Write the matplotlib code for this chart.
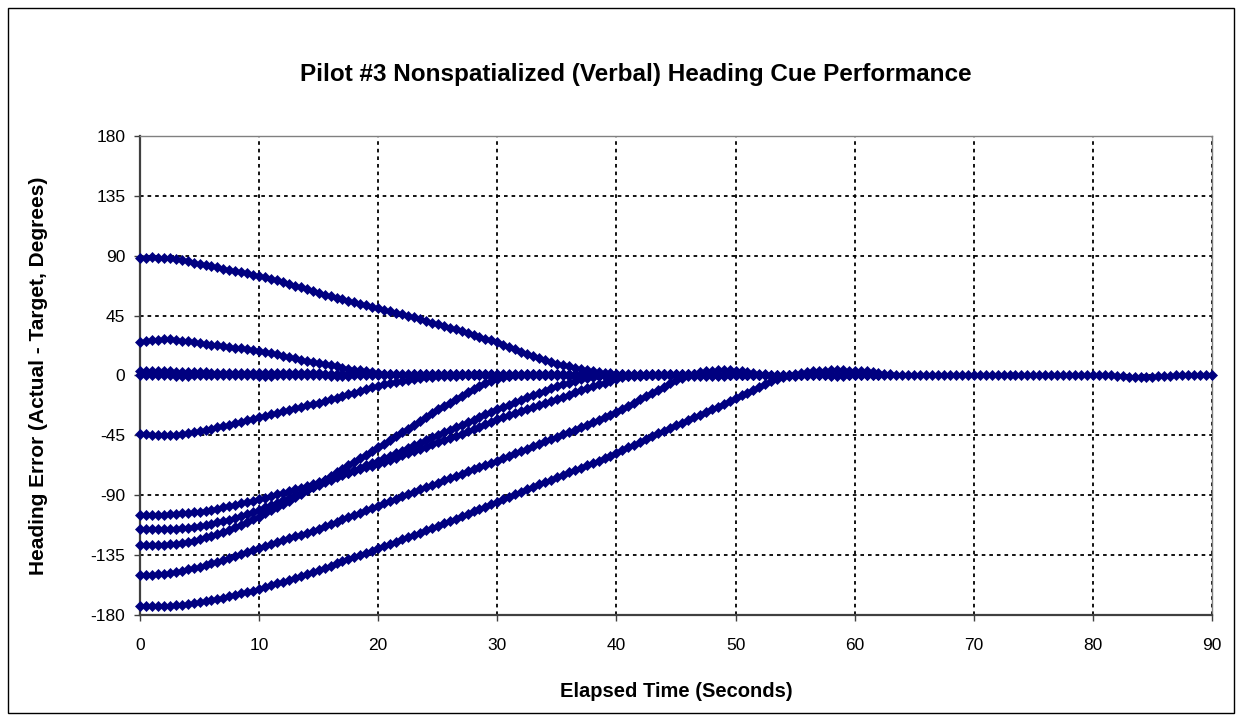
import numpy as np
import matplotlib
matplotlib.use('Agg')
import matplotlib.pyplot as plt
from matplotlib.patches import Rectangle

# sample spacing of the recorded runs (seconds)
TIME_STEP = 0.5

# heading error traces (degrees), one value every 0.5 s
run_start_88 = [
    88.5, 88.6, 88.7, 88.6, 88.4, 88.0, 87.4, 86.6, 85.7, 84.8,
    84.0, 83.1, 82.2, 81.3, 80.4, 79.5, 78.6, 77.7, 76.8, 75.9,
    75.0, 73.8, 72.6, 71.4, 70.2, 69.0, 67.6, 66.2, 64.8, 63.4,
    62.0, 60.8, 59.6, 58.4, 57.2, 56.0, 54.9, 53.8, 52.7, 51.6,
    50.5, 49.4, 48.3, 47.2, 46.1, 45.0, 43.7, 42.4, 41.1, 39.8,
    38.5, 37.2, 35.9, 34.6, 33.3, 32.0, 30.6, 29.2, 27.8, 26.4,
    25.0, 23.2, 21.4, 19.6, 17.8, 16.0, 14.6, 13.2, 11.8, 10.4,
    9.0, 8.0, 7.0, 6.0, 5.0, 4.0, 3.4, 2.8, 2.2, 1.6,
    1.0, 0.8, 0.6, 0.5, 0.4, 0.4, 0.5, 0.6, 0.8, 1.0,
    1.2, 1.4, 1.5, 1.5, 1.4, 1.2, 1.0,
]
run_start_27 = [
    25.0, 25.8, 26.5, 26.9, 27.1, 27.1, 26.8, 26.3, 25.6, 25.0,
    24.3, 23.7, 23.1, 22.6, 22.1, 21.5, 21.0, 20.4, 19.9, 19.3,
    18.7, 17.8, 16.9, 15.9, 14.9, 14.0, 13.0, 12.0, 11.0, 10.1,
    9.2, 8.4, 7.6, 6.8, 6.0, 5.2, 4.5, 3.8, 3.1, 2.4,
    1.8, 1.3, 1.0, 0.8, 0.7, 0.7, 0.8, 0.9, 1.0, 1.0,
    1.0, 1.0, 1.1, 1.1, 1.2, 1.2, 1.2, 1.1, 1.1, 1.0,
    1.0, 0.9, 0.9, 0.8, 0.8, 0.8, 0.9, 0.9, 1.0, 1.0,
    1.1, 1.1, 1.2, 1.2, 1.2, 1.1, 1.1, 1.0, 1.0, 0.9,
    0.9,
]
run_start_4 = [
    3.5, 3.6, 3.6, 3.5, 3.4, 3.2, 3.0, 2.8, 2.6, 2.5,
    2.4, 2.3, 2.2, 2.2, 2.1, 2.1, 2.0, 2.0, 2.0, 1.9,
    1.9, 1.9, 1.8, 1.8, 1.8, 1.7, 1.7, 1.7, 1.6, 1.6,
    1.6, 1.5, 1.5, 1.5, 1.4, 1.4, 1.4, 1.3, 1.3, 1.3,
    1.2, 1.2, 1.2, 1.1, 1.1, 1.1, 1.0, 1.0, 1.0, 1.0,
    0.9, 0.9, 0.9, 0.9, 0.8, 0.8, 0.8, 0.8, 0.8, 0.8,
    0.7, 0.7, 0.7, 0.7, 0.7, 0.6, 0.6, 0.6, 0.6, 0.6,
    0.6, 0.5, 0.5, 0.5, 0.5, 0.5, 0.5, 0.4, 0.4, 0.4,
    0.4, 0.4, 0.4, 0.4, 0.3, 0.3, 0.3, 0.3, 0.3, 0.3,
    0.3, 0.3, 0.3, 0.3, 0.3, 0.4, 0.4, 0.4, 0.5, 0.5,
    0.5, 0.6, 0.6, 0.6, 0.6, 0.6, 0.6, 0.5, 0.5, 0.5,
    0.5, 0.4, 0.4, 0.4, 0.4, 0.4, 0.3, 0.3, 0.3, 0.3,
    0.3, 0.3, 0.4, 0.4, 0.4, 0.5, 0.5, 0.5, 0.5, 0.5,
    0.5, 0.5, 0.4, 0.4, 0.4, 0.4, 0.3, 0.3, 0.3, 0.3,
    0.3, 0.3, 0.3, 0.4, 0.4, 0.4, 0.4, 0.4, 0.4, 0.4,
    0.4, 0.3, 0.3, 0.3, 0.3, 0.3, 0.3, 0.3, 0.2, 0.2,
    0.2, 0.2, 0.1, 0.0, -0.3, -0.7, -1.1, -1.4, -1.5, -1.3,
    -1.0, -0.7, -0.4, -0.2, 0.0, 0.1, 0.2, 0.3, 0.3, 0.3,
    0.3,
]
run_start_0 = [
    0.4, 0.3, 0.2, 0.1, 0.0, 0.0, -0.1, -0.1, -0.1, 0.0,
    0.0, 0.1, 0.1, 0.2, 0.2, 0.2, 0.1, 0.1, 0.0, 0.0,
    -0.1, -0.1, -0.1, 0.0, 0.0, 0.1, 0.1, 0.1, 0.1, 0.0,
    0.0, 0.0, -0.1, -0.1, -0.1, -0.1, 0.0, 0.0, 0.1, 0.1,
    0.1, 0.1, 0.1, 0.0, 0.0, 0.0, -0.1, -0.1, -0.1, -0.1,
    0.0, 0.0, 0.1, 0.1, 0.1, 0.1, 0.0, 0.0, 0.0, -0.1,
    -0.1, -0.1, -0.1, 0.0, 0.0, 0.1, 0.1, 0.2, 0.2, 0.2,
    0.1, 0.1, 0.0, 0.0, -0.1, -0.2, -0.3, -0.4, -0.5, -0.5,
    -0.5, -0.4, -0.3, -0.2, -0.1, 0.0, 0.0, 0.1, 0.1, 0.1,
    0.0, 0.0, -0.1, -0.2, -0.3, -0.3, -0.3, -0.2, -0.1, 0.0,
    0.1, 0.2, 0.2, 0.2, 0.1, 0.0, -0.1, -0.2, -0.2, -0.2,
    -0.1, 0.0, 0.1, 0.1, 0.1, 0.0, -0.1, -0.1, -0.1, 0.0,
    0.0, 0.1, 0.1, 0.1, 0.0,
]
run_start_m45 = [
    -43.8, -44.2, -44.6, -44.9, -45.0, -45.0, -44.8, -44.2, -43.5, -42.8,
    -42.0, -41.0, -40.0, -39.0, -38.0, -36.9, -35.8, -34.7, -33.5, -32.4,
    -31.2, -30.2, -29.1, -28.1, -27.0, -25.9, -24.8, -23.7, -22.5, -21.4,
    -20.3, -19.1, -17.8, -16.6, -15.3, -14.1, -12.8, -11.5, -10.2, -9.0,
    -7.7, -6.6, -5.6, -4.7, -3.8, -3.1, -2.4, -1.8, -1.3, -0.9,
    -0.6, -0.4, -0.2, -0.1, 0.0, 0.1, 0.2, 0.2, 0.3, 0.3,
    0.3, 0.3, 0.2, 0.2, 0.2, 0.1, 0.1, 0.1, 0.0, 0.0,
    0.0, 0.0, -0.1, -0.1, -0.1, -0.1, 0.0, 0.0, 0.0, 0.1,
    0.1,
]
run_start_m105 = [
    -105.0, -105.0, -104.9, -104.8, -104.6, -104.3, -104.0, -103.6, -103.2, -102.8,
    -102.3, -101.6, -100.9, -100.0, -99.2, -98.3, -97.3, -96.2, -95.2, -94.1,
    -93.0, -91.8, -90.6, -89.4, -88.2, -87.0, -85.6, -84.2, -82.8, -81.4,
    -80.0, -78.6, -77.2, -75.8, -74.4, -73.0, -71.7, -70.4, -69.1, -67.8,
    -66.5, -64.9, -63.3, -61.7, -60.1, -58.5, -56.8, -55.1, -53.4, -51.7,
    -50.0, -48.4, -46.8, -45.2, -43.6, -42.0, -40.2, -38.4, -36.6, -34.8,
    -33.0, -31.5, -30.0, -28.5, -27.0, -25.5, -23.9, -22.3, -20.7, -19.1,
    -17.5, -15.9, -14.3, -12.7, -11.1, -9.5, -8.1, -6.7, -5.3, -3.9,
    -2.5, -1.5, -0.6, 0.0, 0.4, 0.7, 0.9, 1.0, 1.1, 1.1,
    1.1, 1.0, 1.0, 0.9, 0.9, 0.8, 0.8, 0.7, 0.7, 0.7,
    0.6, 0.6, 0.6, 0.5, 0.5,
]
run_start_m115 = [
    -115.5, -115.5, -115.5, -115.4, -115.3, -115.2, -115.0, -114.7, -114.3, -113.8,
    -113.3, -112.4, -111.4, -110.4, -109.3, -108.3, -106.9, -105.4, -104.0, -102.5,
    -101.0, -99.2, -97.4, -95.6, -93.8, -92.0, -90.0, -88.0, -86.0, -84.0,
    -82.0, -80.2, -78.4, -76.6, -74.8, -73.0, -71.2, -69.4, -67.6, -65.8,
    -64.0, -62.1, -60.2, -58.3, -56.4, -54.5, -52.5, -50.5, -48.5, -46.5,
    -44.5, -42.6, -40.7, -38.8, -36.9, -35.0, -33.1, -31.2, -29.3, -27.4,
    -25.5, -23.7, -21.9, -20.1, -18.3, -16.5, -14.8, -13.1, -11.4, -9.7,
    -8.0, -6.7, -5.4, -4.2, -3.0, -2.0, -1.2, -0.5, 0.0, 0.4,
    0.7, 0.9, 1.0, 1.0, 1.0, 0.9, 0.9, 0.8, 0.8, 0.7,
    0.7,
]
run_start_m127 = [
    -127.5, -127.5, -127.4, -127.3, -127.1, -126.8, -126.4, -125.8, -125.0, -124.1,
    -123.0, -121.7, -120.4, -119.0, -117.5, -116.0, -114.2, -112.3, -110.2, -108.1,
    -106.0, -103.6, -101.2, -98.8, -96.4, -94.0, -91.4, -88.8, -86.2, -83.6,
    -81.0, -78.3, -75.6, -72.9, -70.2, -67.5, -64.8, -62.1, -59.4, -56.7,
    -54.0, -51.2, -48.4, -45.6, -42.8, -40.0, -37.1, -34.2, -31.3, -28.4,
    -25.5, -22.9, -20.3, -17.7, -15.1, -12.5, -10.2, -8.0, -6.0, -4.2,
    -2.5, -1.2, -0.3, 0.3, 0.7, 0.9, 1.0, 1.0, 0.9, 0.9,
    0.8, 0.8, 0.7, 0.7, 0.7, 0.6, 0.6, 0.6, 0.5, 0.5,
    0.5, 0.5, 0.4, 0.4, 0.4, 0.4, 0.3, 0.3, 0.3, 0.3,
    0.3,
]
run_start_m150 = [
    -150.0, -150.0, -149.8, -149.5, -149.1, -148.5, -147.7, -146.8, -145.8, -144.9,
    -144.0, -142.6, -141.2, -139.8, -138.4, -137.0, -135.6, -134.2, -132.8, -131.4,
    -130.0, -128.5, -127.0, -125.5, -124.0, -122.5, -121.0, -119.5, -118.0, -116.5,
    -115.0, -113.3, -111.6, -109.9, -108.2, -106.5, -104.8, -103.1, -101.4, -99.7,
    -98.0, -96.2, -94.4, -92.6, -90.8, -89.0, -87.3, -85.6, -83.9, -82.2,
    -80.5, -78.8, -77.1, -75.4, -73.7, -72.0, -70.4, -68.8, -67.2, -65.6,
    -64.0, -62.2, -60.4, -58.6, -56.8, -55.0, -53.2, -51.4, -49.6, -47.8,
    -46.0, -44.2, -42.4, -40.6, -38.8, -37.0, -35.1, -33.2, -31.3, -29.4,
    -27.5, -25.1, -22.7, -20.3, -17.9, -15.5, -13.1, -10.7, -8.3, -5.9,
    -3.6, -1.6, 0.0, 1.4, 2.5, 3.2, 3.6, 3.8, 3.9, 3.9,
    3.7, 3.2, 2.5, 1.8, 1.2, 0.8, 0.5, 0.4, 0.3, 0.3,
    0.3, 0.3, 0.2,
]
run_start_m173 = [
    -173.0, -173.1, -173.2, -173.2, -173.1, -172.9, -172.6, -172.2, -171.7, -171.1,
    -170.5, -169.6, -168.7, -167.8, -166.9, -166.0, -164.9, -163.8, -162.7, -161.6,
    -160.5, -159.1, -157.7, -156.3, -154.9, -153.5, -152.0, -150.5, -149.0, -147.5,
    -146.0, -144.4, -142.8, -141.2, -139.6, -138.0, -136.4, -134.8, -133.2, -131.6,
    -130.0, -128.3, -126.6, -124.9, -123.2, -121.5, -119.8, -118.1, -116.4, -114.7,
    -113.0, -111.2, -109.4, -107.6, -105.8, -104.0, -102.2, -100.4, -98.6, -96.8,
    -95.0, -93.1, -91.2, -89.3, -87.4, -85.5, -83.7, -81.9, -80.1, -78.3,
    -76.5, -74.7, -72.9, -71.1, -69.3, -67.5, -65.7, -63.9, -62.1, -60.3,
    -58.5, -56.3, -54.1, -51.9, -49.7, -47.5, -45.5, -43.5, -41.5, -39.5,
    -37.5, -35.5, -33.5, -31.5, -29.5, -27.5, -25.4, -23.3, -21.2, -19.1,
    -17.0, -14.9, -12.8, -10.7, -8.6, -6.5, -4.5, -2.7, -1.2, 0.0,
    1.0, 1.9, 2.6, 3.1, 3.5, 3.7, 3.8, 3.8, 3.8, 3.7,
    3.6, 3.4, 3.1, 2.6, 2.0, 1.4, 0.9,
]

runs = [run_start_88, run_start_27, run_start_4, run_start_0, run_start_m45,
        run_start_m105, run_start_m115, run_start_m127, run_start_m150, run_start_m173]

x_ticks = list(range(0, 91, 10))
y_ticks = list(range(-180, 181, 45))

NAVY = '#000080'
W, H = 1236, 715

plt.rcParams['font.family'] = ['Liberation Sans', 'DejaVu Sans']
plt.rcParams['axes.unicode_minus'] = False

fig = plt.figure(figsize=(W / 100, H / 100), dpi=100)
# plot area in pixels: left 140, right 1212, top 136, bottom 615
ax = fig.add_axes([140 / W, 1 - 615 / H, (1212 - 140) / W, (615 - 136) / H])

for vals in runs:
    t = np.arange(len(vals)) * TIME_STEP
    ax.plot(t, vals, color=NAVY, linewidth=2.0, marker='D', markersize=5.0,
            markerfacecolor=NAVY, markeredgecolor=NAVY, markeredgewidth=0.5,
            clip_on=False, zorder=3)

ax.set_xlim(0, 90)
ax.set_ylim(-180, 180)
ax.set_xticks(x_ticks)
ax.set_yticks(y_ticks)
ax.grid(True, color='black', linestyle=(0, (2.0, 2.2)), linewidth=1.3)
ax.set_axisbelow(True)

for side in ['top', 'right']:
    ax.spines[side].set_color('#808080')
    ax.spines[side].set_linewidth(1.0)
for side in ['left', 'bottom']:
    ax.spines[side].set_color('#404040')
    ax.spines[side].set_linewidth(1.6)

ax.tick_params(axis='both', direction='out', length=4.5, width=1.0, color='#404040',
               labelsize=12.5)
ax.tick_params(axis='x', pad=12)
ax.tick_params(axis='y', pad=6)

ax.set_xlabel('Elapsed Time (Seconds)', fontsize=14.5, fontweight='bold')
ax.set_ylabel('Heading Error (Actual - Target, Degrees)', fontsize=15, fontweight='bold')
ax.xaxis.set_label_coords(0.5, -0.14)
ax.yaxis.set_label_coords(-0.086, 0.5)

fig.text(636 / W, 1 - 75 / H, 'Pilot #3 Nonspatialized (Verbal) Heading Cue Performance',
         ha='center', va='center', fontsize=17.5, fontweight='bold')

# chart area border
fig.patches.append(Rectangle((8 / W, 2 / H), 1 - 10 / W, 1 - 10 / H,
                             transform=fig.transFigure, fill=False,
                             edgecolor='black', linewidth=1.0))

fig.savefig('out.png', dpi=100)
